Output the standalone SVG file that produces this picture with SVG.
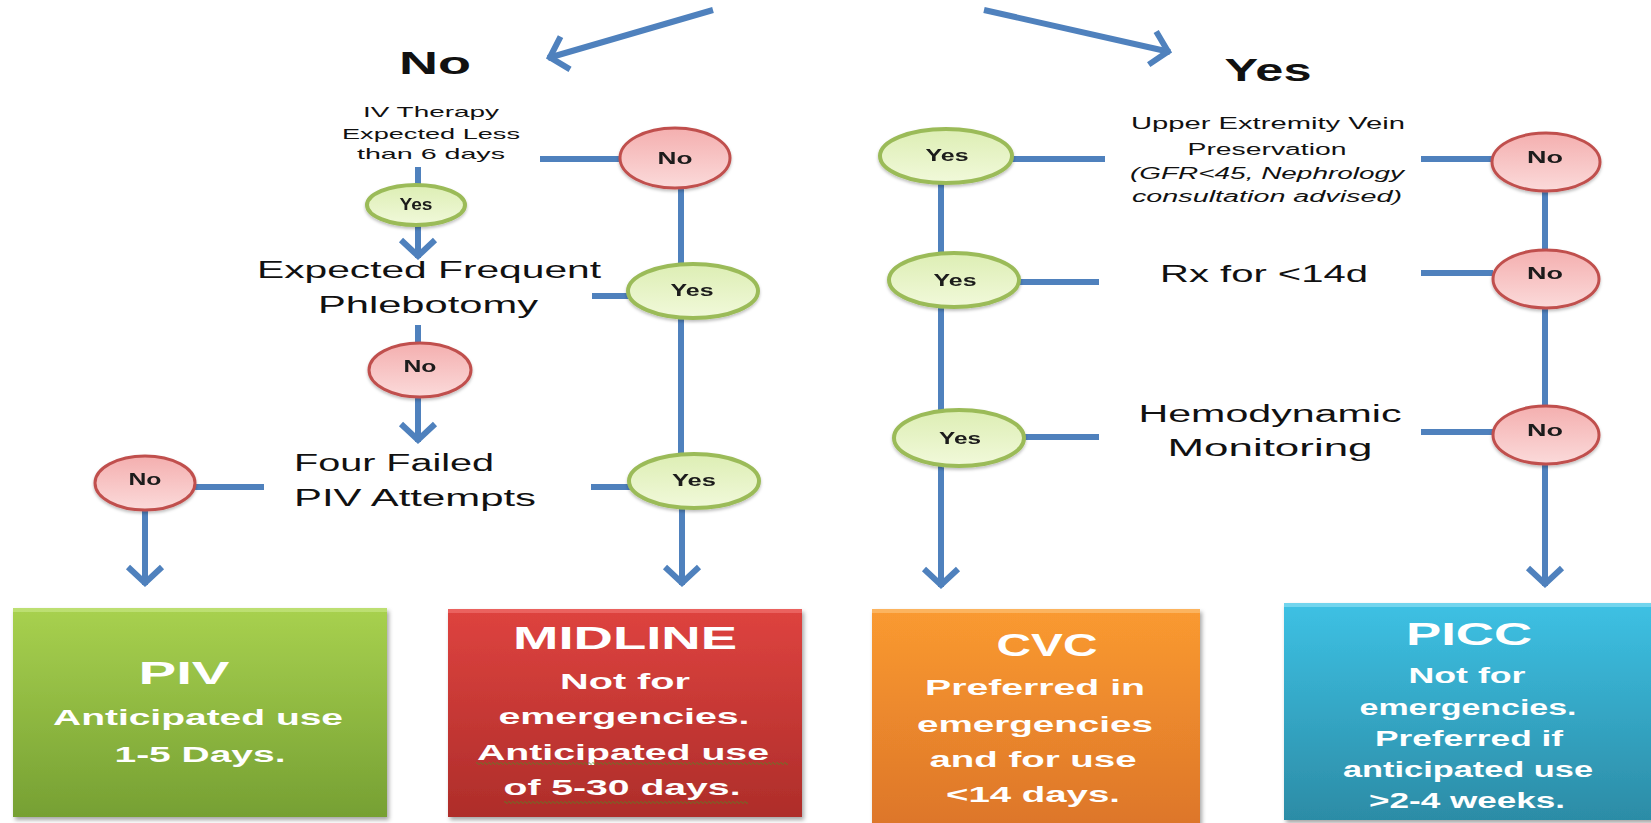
<svg xmlns="http://www.w3.org/2000/svg" width="1651" height="823" viewBox="0 0 1651 823">
<defs>
<style>
.c{stroke:#4F81BD;stroke-width:6;fill:none}
.ca{stroke:#4F81BD;stroke-width:6;fill:none;marker-end:url(#arr)}
.t{font-family:"Liberation Sans",Arial,sans-serif;fill:#111;text-anchor:middle}
.tb{font-family:"Liberation Sans",Arial,sans-serif;fill:#111;text-anchor:middle;font-weight:bold}
.nl{font-family:"Liberation Sans",Arial,sans-serif;fill:#1a1a1a;text-anchor:middle;font-weight:bold;font-size:17px}
.bx{font-family:"Liberation Sans",Arial,sans-serif;fill:#fff;text-anchor:middle;font-weight:bold;font-size:22px}
.bt{font-family:"Liberation Sans",Arial,sans-serif;fill:#fff;text-anchor:middle;font-weight:bold;font-size:32px}
.no{fill:url(#gRed);stroke:#C0504D;stroke-width:3}
.yes{fill:url(#gGreen);stroke:#9BBB59;stroke-width:4}
</style>
<marker id="arr" markerUnits="userSpaceOnUse" viewBox="-24 -20 28 40" refX="0" refY="0" markerWidth="28" markerHeight="40" orient="auto" overflow="visible">
<path d="M-18,-17 L-2,0 L-18,17" fill="none" stroke="#4F81BD" stroke-width="6" stroke-linejoin="miter"/>
</marker>
<linearGradient id="gRed" x1="0" y1="0" x2="0" y2="1">
<stop offset="0" stop-color="#F4AFAF"/><stop offset="1" stop-color="#FBDADA"/>
</linearGradient>
<linearGradient id="gGreen" x1="0" y1="0" x2="0" y2="1">
<stop offset="0" stop-color="#DDEEB4"/><stop offset="1" stop-color="#F1F9DA"/>
</linearGradient>
<linearGradient id="gPiv" x1="0" y1="0" x2="0" y2="1">
<stop offset="0" stop-color="#A8D14F"/><stop offset="1" stop-color="#76A033"/>
</linearGradient>
<linearGradient id="gMid" x1="0" y1="0" x2="0" y2="1">
<stop offset="0" stop-color="#DE433F"/><stop offset="1" stop-color="#AE2D2A"/>
</linearGradient>
<linearGradient id="gCvc" x1="0" y1="0" x2="0" y2="1">
<stop offset="0" stop-color="#FA9A30"/><stop offset="1" stop-color="#DD762A"/>
</linearGradient>
<linearGradient id="gPicc" x1="0" y1="0" x2="0" y2="1">
<stop offset="0" stop-color="#3DC1E4"/><stop offset="1" stop-color="#2C8CA6"/>
</linearGradient>
<filter id="sh" x="-10%" y="-10%" width="120%" height="120%">
<feDropShadow dx="2" dy="3" stdDeviation="2" flood-color="#000" flood-opacity="0.35"/>
</filter>
<filter id="nsh" x="-10%" y="-10%" width="120%" height="130%">
<feDropShadow dx="0" dy="2" stdDeviation="1.5" flood-color="#000" flood-opacity="0.25"/>
</filter>
<pattern id="wavy" width="4" height="3" patternUnits="userSpaceOnUse">
<path d="M0,1.5 L1,0.5 L3,2.5 L4,1.5" fill="none" stroke="#4E8A22" stroke-width="0.9"/>
</pattern>
</defs>
<rect x="0" y="0" width="1651" height="823" fill="#fff"/>

<g id="connectors">
<line class="ca" x1="713" y1="10" x2="548" y2="58"/>
<line class="ca" x1="984" y1="10" x2="1170" y2="52"/>
<line class="c" x1="418" y1="167" x2="418" y2="185"/>
<line class="ca" x1="418" y1="226" x2="418" y2="258"/>
<line class="c" x1="540" y1="159" x2="620" y2="159"/>
<line class="c" x1="681" y1="188" x2="681" y2="264"/>
<line class="c" x1="592" y1="296" x2="629" y2="296"/>
<line class="c" x1="418" y1="325" x2="418" y2="343"/>
<line class="ca" x1="418" y1="397" x2="418" y2="442"/>
<line class="c" x1="681" y1="318" x2="681" y2="454"/>
<line class="c" x1="591" y1="487" x2="630" y2="487"/>
<line class="c" x1="195" y1="487" x2="264" y2="487"/>
<line class="ca" x1="145" y1="510" x2="145" y2="585"/>
<line class="ca" x1="682" y1="508" x2="682" y2="585"/>
<line class="c" x1="1012" y1="159" x2="1105" y2="159"/>
<line class="c" x1="941" y1="183" x2="941" y2="253"/>
<line class="c" x1="1019" y1="282" x2="1099" y2="282"/>
<line class="c" x1="941" y1="307" x2="941" y2="411"/>
<line class="c" x1="1024" y1="437" x2="1099" y2="437"/>
<line class="ca" x1="941" y1="466" x2="941" y2="587"/>
<line class="c" x1="1421" y1="159" x2="1492" y2="159"/>
<line class="c" x1="1421" y1="273" x2="1493" y2="273"/>
<line class="c" x1="1421" y1="432" x2="1493" y2="432"/>
<line class="c" x1="1545" y1="191" x2="1545" y2="250"/>
<line class="c" x1="1545" y1="307" x2="1545" y2="406"/>
<line class="ca" x1="1545" y1="463" x2="1545" y2="586"/>
</g>

<g id="title-no"><text class="tb" x="435" y="74" font-size="31" textLength="72" lengthAdjust="spacingAndGlyphs">No</text></g>
<g id="title-yes"><text class="tb" x="1268" y="81" font-size="31" textLength="87" lengthAdjust="spacingAndGlyphs">Yes</text></g>

<g id="q-iv">
<text class="t" font-size="15" x="431" y="117" textLength="136" lengthAdjust="spacingAndGlyphs">IV Therapy</text>
<text class="t" font-size="15" x="431" y="139" textLength="178" lengthAdjust="spacingAndGlyphs">Expected Less</text>
<text class="t" font-size="15" x="431" y="159" textLength="148" lengthAdjust="spacingAndGlyphs">than 6 days</text>
</g>
<g id="q-phleb">
<text class="t" font-size="24" x="429" y="278" textLength="344" lengthAdjust="spacingAndGlyphs">Expected  Frequent</text>
<text class="t" font-size="24" x="428" y="313" textLength="220" lengthAdjust="spacingAndGlyphs">Phlebotomy</text>
</g>
<g id="q-four">
<text class="t" font-size="23" x="394" y="471" textLength="200" lengthAdjust="spacingAndGlyphs">Four Failed</text>
<text class="t" font-size="23" x="415" y="506" textLength="242" lengthAdjust="spacingAndGlyphs">PIV Attempts</text>
</g>
<g id="q-upper">
<text class="t" font-size="16" x="1268" y="129" textLength="274" lengthAdjust="spacingAndGlyphs">Upper Extremity Vein</text>
<text class="t" font-size="16" x="1267" y="155" textLength="159" lengthAdjust="spacingAndGlyphs">Preservation</text>
<text class="t" font-size="16" x="1267" y="179" font-style="italic" textLength="274" lengthAdjust="spacingAndGlyphs">(GFR&lt;45, Nephrology</text>
<text class="t" font-size="16" x="1267" y="202" font-style="italic" textLength="270" lengthAdjust="spacingAndGlyphs">consultation advised)</text>
</g>
<g id="q-rx"><text class="t" font-size="24" x="1264" y="282" textLength="208" lengthAdjust="spacingAndGlyphs">Rx for &lt;14d</text></g>
<g id="q-hemo">
<text class="t" font-size="23" x="1270" y="422" textLength="263" lengthAdjust="spacingAndGlyphs">Hemodynamic</text>
<text class="t" font-size="23" x="1270" y="456" textLength="205" lengthAdjust="spacingAndGlyphs">Monitoring</text>
</g>

<g id="n-no1" filter="url(#nsh)"><ellipse class="no" cx="675" cy="158" rx="55" ry="30"/><text class="nl" x="675" y="164" textLength="35" lengthAdjust="spacingAndGlyphs">No</text></g>
<g id="n-yes1" filter="url(#nsh)"><ellipse class="yes" cx="416" cy="205" rx="49" ry="20"/><text class="nl" font-size="13" x="416" y="210" textLength="33" lengthAdjust="spacingAndGlyphs">Yes</text></g>
<g id="n-yes2" filter="url(#nsh)"><ellipse class="yes" cx="693" cy="291" rx="65" ry="27"/><text class="nl" x="692" y="296" textLength="43" lengthAdjust="spacingAndGlyphs">Yes</text></g>
<g id="n-no2" filter="url(#nsh)"><ellipse class="no" cx="420" cy="370" rx="51" ry="27"/><text class="nl" x="420" y="372" textLength="33" lengthAdjust="spacingAndGlyphs">No</text></g>
<g id="n-yes3" filter="url(#nsh)"><ellipse class="yes" cx="694" cy="481" rx="65" ry="27"/><text class="nl" x="694" y="486" textLength="44" lengthAdjust="spacingAndGlyphs">Yes</text></g>
<g id="n-no3" filter="url(#nsh)"><ellipse class="no" cx="145" cy="483" rx="50" ry="27"/><text class="nl" x="145" y="485" textLength="33" lengthAdjust="spacingAndGlyphs">No</text></g>
<g id="n-yesA" filter="url(#nsh)"><ellipse class="yes" cx="946" cy="156" rx="66" ry="27"/><text class="nl" x="947" y="161" textLength="43" lengthAdjust="spacingAndGlyphs">Yes</text></g>
<g id="n-yesB" filter="url(#nsh)"><ellipse class="yes" cx="954" cy="280" rx="65" ry="27"/><text class="nl" x="955" y="286" textLength="43" lengthAdjust="spacingAndGlyphs">Yes</text></g>
<g id="n-yesC" filter="url(#nsh)"><ellipse class="yes" cx="959" cy="438" rx="65" ry="28"/><text class="nl" x="960" y="444" textLength="42" lengthAdjust="spacingAndGlyphs">Yes</text></g>
<g id="n-noR1" filter="url(#nsh)"><ellipse class="no" cx="1546" cy="162" rx="54" ry="29"/><text class="nl" x="1545" y="163" textLength="36" lengthAdjust="spacingAndGlyphs">No</text></g>
<g id="n-noR2" filter="url(#nsh)"><ellipse class="no" cx="1546" cy="279" rx="53" ry="29"/><text class="nl" x="1545" y="279" textLength="36" lengthAdjust="spacingAndGlyphs">No</text></g>
<g id="n-noR3" filter="url(#nsh)"><ellipse class="no" cx="1546" cy="435" rx="53" ry="29"/><text class="nl" x="1545" y="436" textLength="36" lengthAdjust="spacingAndGlyphs">No</text></g>

<g id="box-piv">
<rect x="13" y="608" width="374" height="209" fill="url(#gPiv)" filter="url(#sh)"/>
<rect x="13" y="608" width="374" height="4" fill="#C2E27A" opacity="0.8"/>
<text class="bt" x="184" y="684" textLength="91" lengthAdjust="spacingAndGlyphs">PIV</text>
<text class="bx" x="198" y="725" textLength="290" lengthAdjust="spacingAndGlyphs">Anticipated use</text>
<text class="bx" x="200" y="762" textLength="171" lengthAdjust="spacingAndGlyphs">1-5 Days.</text>
</g>
<g id="box-midline">
<rect x="448" y="609" width="354" height="208" fill="url(#gMid)" filter="url(#sh)"/>
<rect x="448" y="609" width="354" height="4" fill="#EE6A66" opacity="0.8"/>
<text class="bt" x="625" y="649" textLength="224" lengthAdjust="spacingAndGlyphs">MIDLINE</text>
<text class="bx" x="625" y="689" textLength="130" lengthAdjust="spacingAndGlyphs">Not for</text>
<text class="bx" x="624" y="724" textLength="251" lengthAdjust="spacingAndGlyphs">emergencies.</text>
<text class="bx" x="623" y="760" textLength="292" lengthAdjust="spacingAndGlyphs">Anticipated use</text>
<text class="bx" x="622" y="795" textLength="237" lengthAdjust="spacingAndGlyphs">of 5-30 days.</text>
<rect x="476" y="762" width="312" height="3" fill="url(#wavy)"/>
<rect x="504" y="801" width="244" height="3" fill="url(#wavy)"/>
</g>
<g id="box-cvc">
<rect x="872" y="609" width="328" height="216" fill="url(#gCvc)" filter="url(#sh)"/>
<rect x="872" y="609" width="328" height="4" fill="#FDBA6A" opacity="0.8"/>
<text class="bt" x="1047" y="656" textLength="101" lengthAdjust="spacingAndGlyphs">CVC</text>
<text class="bx" x="1035" y="695" textLength="220" lengthAdjust="spacingAndGlyphs">Preferred in</text>
<text class="bx" x="1035" y="732" textLength="236" lengthAdjust="spacingAndGlyphs">emergencies</text>
<text class="bx" x="1033" y="767" textLength="207" lengthAdjust="spacingAndGlyphs">and for use</text>
<text class="bx" x="1033" y="802" textLength="174" lengthAdjust="spacingAndGlyphs">&lt;14 days.</text>
</g>
<g id="box-picc">
<rect x="1284" y="603" width="370" height="217" fill="url(#gPicc)" filter="url(#sh)"/>
<rect x="1284" y="603" width="370" height="4" fill="#7FD9F0" opacity="0.8"/>
<text class="bt" x="1469" y="645" font-size="34" textLength="126" lengthAdjust="spacingAndGlyphs">PICC</text>
<text class="bx" x="1467" y="683" textLength="117" lengthAdjust="spacingAndGlyphs">Not for</text>
<text class="bx" x="1468" y="715" textLength="217" lengthAdjust="spacingAndGlyphs">emergencies.</text>
<text class="bx" x="1469" y="746" textLength="188" lengthAdjust="spacingAndGlyphs">Preferred if</text>
<text class="bx" x="1468" y="777" textLength="250" lengthAdjust="spacingAndGlyphs">anticipated use</text>
<text class="bx" x="1467" y="808" textLength="196" lengthAdjust="spacingAndGlyphs">&gt;2-4 weeks.</text>
</g>
</svg>
